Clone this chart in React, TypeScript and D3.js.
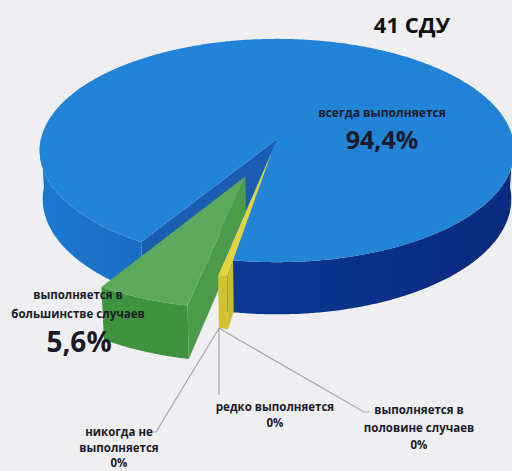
import React from "react";
import * as d3 from "d3";

// ---- data ----
const title = "41 СДУ";
const categories = [
  "всегда выполняется",
  "выполняется в половине случаев",
  "редко выполняется",
  "никогда не выполняется",
  "выполняется в большинстве случаев",
];
const values = [94.4, 0, 0, 0, 5.6];
const valueLabels = ["94,4%", "0%", "0%", "0%", "5,6%"];
const labelLines = [
  ["всегда выполняется"],
  ["выполняется в", "половине случаев"],
  ["редко выполняется"],
  ["никогда не", "выполняется"],
  ["выполняется в", "большинстве случаев"],
];

// ---- style / layout ----
const W = 512;
const H = 471;
const topColors = ["#2184d7", "#2184d7", "#e3d43c", "#8a8a8a", "#5ca95b"];
const explode = [0, 0, 0.12, 0, 0.35];
const MIN_SLIVER = (2 * Math.PI) / 180;
const START_THETA = (121.66 * Math.PI) / 180; // screen angle, clockwise from 3 o'clock

// perspective camera
const F = 2023;
const L = 8.57;
const PHI = (27.9 * Math.PI) / 180;
const TH = 0.235;
const CX = 277;
const CY = 139;
const sinP = Math.sin(PHI);
const cosP = Math.cos(PHI);

function proj(x: number, y: number, z: number): [number, number] {
  const d = L - y * sinP - z * cosP;
  return [CX + (F * x) / d, CY + (F * (z * sinP - y * cosP)) / d];
}

type Slice = { i: number; th0: number; th1: number; ox: number; oz: number };

function pt(s: Slice, r: number, th: number, y: number) {
  return proj(s.ox + r * Math.cos(th), y, s.oz + r * Math.sin(th));
}
function toPath(pts: [number, number][]) {
  return "M" + pts.map((p) => p[0].toFixed(2) + "," + p[1].toFixed(2)).join("L") + "Z";
}
function steps(a: number, b: number) {
  const n = Math.max(2, Math.ceil(Math.abs(b - a) / (Math.PI / 360)));
  return d3.range(n + 1).map((k) => a + ((b - a) * k) / n);
}
function topPath(s: Slice) {
  const pts: [number, number][] = [pt(s, 0, 0, 0)];
  steps(s.th0, s.th1).forEach((t) => pts.push(pt(s, 1, t, 0)));
  return toPath(pts);
}
function outerWall(s: Slice, a: number, b: number) {
  const st = steps(a, b);
  return toPath([
    ...st.map((t) => pt(s, 1, t, 0)),
    ...st.slice().reverse().map((t) => pt(s, 1, t, -TH)),
  ]);
}
function radialWall(s: Slice, th: number, r0: number, r1: number) {
  return toPath([pt(s, r0, th, 0), pt(s, r1, th, 0), pt(s, r1, th, -TH), pt(s, r0, th, -TH)]);
}

export default function App() {
  const pie = d3
    .pie<number>()
    .sort(null)
    .value((d) => d)
    .startAngle(START_THETA + Math.PI / 2)
    .endAngle(START_THETA + Math.PI / 2 + 2 * Math.PI);
  const arcs = pie(values);
  const slices: Slice[] = arcs.map((a, i) => {
    let th0 = a.startAngle - Math.PI / 2;
    const th1 = a.endAngle - Math.PI / 2;
    if (i === 2 && th1 - th0 < MIN_SLIVER) th0 = th1 - MIN_SLIVER;
    const mid = (th0 + th1) / 2;
    return { i, th0, th1, ox: explode[i] * Math.cos(mid), oz: explode[i] * Math.sin(mid) };
  });
  const blue = slices[0];
  const yellow = slices[2];
  const green = slices[4];

  const leftA = pt(blue, 1, Math.PI, 0);
  const leftB = pt(blue, 1, blue.th0, 0);
  const rightA = pt(blue, 1, blue.th1, 0);
  const rightB = pt(blue, 1, 2 * Math.PI, 0);

  const tip = pt(yellow, 1, yellow.th1, -TH);
  const textFont = "'Open Sans', 'DejaVu Sans', sans-serif";
  const lineCol = "#a7a2ad";
  const txt = "#1a1a2a";

  return (
    <svg
      width={W}
      height={H}
      style={{ position: "fixed", left: 0, top: 0, background: "#efeff1" }}
      fontFamily={textFont}
    >
      <defs>
        <linearGradient id="gLeft" gradientUnits="userSpaceOnUse" x1={leftA[0]} y1={0} x2={leftB[0]} y2={0}>
          <stop offset="0" stopColor="#1d78d0" />
          <stop offset="1" stopColor="#1a6cc3" />
        </linearGradient>
        <linearGradient id="gRight" gradientUnits="userSpaceOnUse" x1={rightA[0]} y1={0} x2={rightB[0]} y2={0}>
          <stop offset="0" stopColor="#0d3a94" />
          <stop offset="0.6" stopColor="#0a2f86" />
          <stop offset="1" stopColor="#0a2b80" />
        </linearGradient>
      </defs>
      <rect width={W} height={H} fill="#efeff1" />
      {/* blue cut wall (facing the gap) */}
      <path d={radialWall(blue, blue.th0, 0, 1)} fill="#1c5db4" />
      {/* green right wall */}
      <path d={radialWall(green, green.th0, 0, 1)} fill="#4b9b4a" />
      {/* blue outer wall */}
      <path d={outerWall(blue, blue.th0, Math.PI)} fill="url(#gLeft)" />
      <path d={outerWall(blue, 2 * Math.PI, blue.th1)} fill="url(#gRight)" />
      {/* blue top */}
      <path d={topPath(blue)} fill={topColors[0]} />
      {/* yellow */}
      <path d={outerWall(yellow, yellow.th0, yellow.th1)} fill="#d2c22e" />
      <path d={radialWall(yellow, yellow.th0, 1 - explode[2], 1)} fill="#cdbd2c" />
      <path d={topPath(yellow)} fill={topColors[2]} />
      {/* green */}
      <path d={outerWall(green, green.th0, green.th1)} fill="#3e933f" />
      <path d={topPath(green)} fill={topColors[4]} />

      {/* leader lines */}
      <polyline points={`${tip[0]},${tip[1]} ${tip[0]},395`} fill="none" stroke={lineCol} strokeWidth={1.2} />
      <polyline points={`${tip[0]},${tip[1]} 364,412 369,412`} fill="none" stroke={lineCol} strokeWidth={1.2} />
      <polyline points={`${tip[0]},${tip[1]} 156,432 151,432`} fill="none" stroke={lineCol} strokeWidth={1.2} />

      {/* title */}
      <text x={412} y={33} textAnchor="middle" fontSize={22} fontWeight={700} fill="#111">
        {title}
      </text>

      {/* blue label */}
      <text x={382} y={117} textAnchor="middle" fontSize={12} fontWeight={700} fill={txt}>
        {labelLines[0][0]}
      </text>
      <text x={382} y={149} textAnchor="middle" fontSize={25} fontWeight={700} fill={txt}>
        {valueLabels[0]}
      </text>

      {/* green label */}
      <text x={78} y={299} textAnchor="middle" fontSize={11.5} fontWeight={700} fill={txt}>
        {labelLines[4][0]}
      </text>
      <text x={78} y={318} textAnchor="middle" fontSize={11.5} fontWeight={700} fill={txt}>
        {labelLines[4][1]}
      </text>
      <text x={79} y={352} textAnchor="middle" fontSize={28} fontWeight={700} fill={txt}>
        {valueLabels[4]}
      </text>

      {/* zero labels */}
      <text x={275} y={411} textAnchor="middle" fontSize={11.5} fontWeight={700} fill={txt}>
        {labelLines[2][0]}
      </text>
      <text x={275} y={427} textAnchor="middle" fontSize={11.5} fontWeight={700} fill={txt}>
        {valueLabels[2]}
      </text>

      <text x={419} y={414} textAnchor="middle" fontSize={11.5} fontWeight={700} fill={txt}>
        {labelLines[1][0]}
      </text>
      <text x={419} y={432} textAnchor="middle" fontSize={11.5} fontWeight={700} fill={txt}>
        {labelLines[1][1]}
      </text>
      <text x={419} y={449} textAnchor="middle" fontSize={11.5} fontWeight={700} fill={txt}>
        {valueLabels[1]}
      </text>

      <text x={119} y={436} textAnchor="middle" fontSize={11.5} fontWeight={700} fill={txt}>
        {labelLines[3][0]}
      </text>
      <text x={119} y={452} textAnchor="middle" fontSize={11.5} fontWeight={700} fill={txt}>
        {labelLines[3][1]}
      </text>
      <text x={119} y={467} textAnchor="middle" fontSize={11.5} fontWeight={700} fill={txt}>
        {valueLabels[3]}
      </text>
    </svg>
  );
}
